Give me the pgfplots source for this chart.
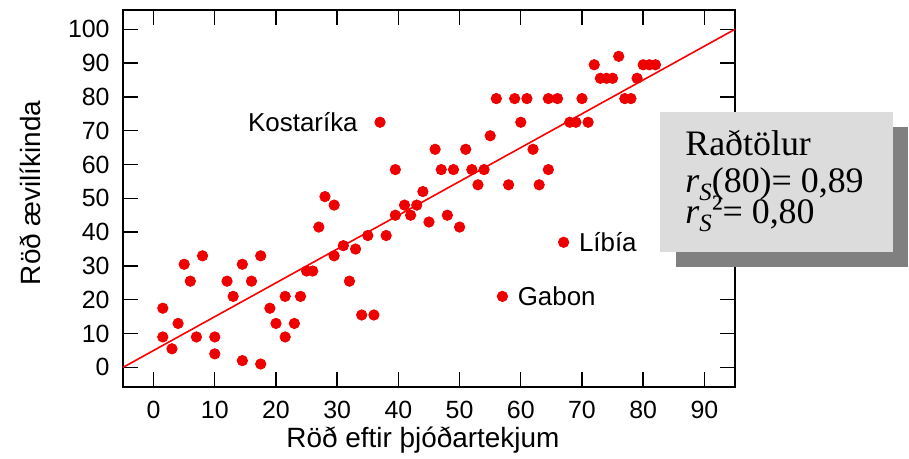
\documentclass[border=0pt]{standalone}
\usepackage{fontspec}
\setmainfont{Liberation Sans}
\newfontfamily\boxfont{Liberation Serif}
\usepackage{pgfplots}
\pgfplotsset{compat=1.18}
\definecolor{dotred}{HTML}{EE0000}
\definecolor{boxgray}{HTML}{DCDCDC}
\definecolor{shadowgray}{HTML}{808080}

\begin{document}
\begin{tikzpicture}
\useasboundingbox (-61.5bp,-36bp) rectangle (393bp,193.5bp);
\begin{axis}[
  scale only axis, width=306bp, height=188.5bp,
  xmin=-5, xmax=95, ymin=-5.8, ymax=105.7,
  xtick={0,10,...,90}, ytick={0,10,...,100},
  tick align=inside, major tick length=7.5bp,
  tick style={black, line width=0.7bp},
  axis line style={black, line width=1bp},
  /pgf/number format/assume math mode=true,
  ticklabel style={font=\fontsize{12.5}{15}\selectfont, inner sep=0pt},
  xticklabel style={anchor=center, yshift=-11.5bp},
  yticklabel style={anchor=east, xshift=-6.5bp},
  xlabel={Röð eftir þjóðartekjum},
  ylabel={Röð ævilíkinda},
  label style={font=\fontsize{14}{17}\selectfont},
  xlabel style={at={(axis description cs:0.49,-0.14)}, anchor=center},
  ylabel style={at={(axis description cs:-0.152,0.515)}, anchor=center},
  clip=false,
]
\addplot[red, line width=0.8bp] coordinates {(-5,0)(95,100)};
\addplot[only marks, mark=*, mark size=2.6bp, color=dotred, mark options={draw=none, fill=dotred}] coordinates {
(1.5,17.5)(1.5,9)(3,5.5)(4,13)(5,30.5)(6,25.5)(7,9)(8,33)(10,9)(10,4)
(12,25.5)(13,21)(14.5,30.5)(14.5,2)(16,25.5)(17.5,33)(17.5,1)(19,17.5)(20,13)(21.5,21)
(21.5,9)(23,13)(24,21)(25,28.5)(26,28.5)(27,41.5)(28,50.5)(29.5,48)(29.5,33)(31,36)
(32,25.5)(33,35)(34,15.5)(35,39)(36,15.5)(37,72.5)(38,39)(39.5,58.5)(39.5,45)(41,48)
(42,45)(43,48)(44,52)(45,43)(46,64.5)(47,58.5)(48,45)(49,58.5)(50,41.5)(51,64.5)
(52,58.5)(53,54)(54,58.5)(55,68.5)(56,79.5)(57,21)(58,54)(59,79.5)(60,72.5)(61,79.5)
(62,64.5)(63,54)(64.5,58.5)(64.5,79.5)(66,79.5)(67,37)(68,72.5)(69,72.5)(70,79.5)(71,72.5)
(72,89.5)(73,85.5)(74,85.5)(75,85.5)(76,92)(77,79.5)(78,79.5)(79,85.5)(80,89.5)(81,89.5)
(82,89.5)
};
\node[anchor=east, inner sep=0pt, xshift=-11bp, font=\fontsize{13}{15}\selectfont] at (axis cs:37,72.5) {Kostaríka};
\node[anchor=west, inner sep=0pt, xshift=7.5bp, font=\fontsize{13}{15}\selectfont] at (axis cs:67,37) {Líbía};
\node[anchor=west, inner sep=0pt, xshift=7.5bp, font=\fontsize{13}{15}\selectfont] at (axis cs:57,21) {Gabon};
\fill[shadowgray] (rel axis cs:0.9036,0.3183) rectangle (rel axis cs:1.2827,0.6897);
\fill[boxgray] (rel axis cs:0.8775,0.3581) rectangle (rel axis cs:1.2582,0.7294);
\node[anchor=north west, inner sep=0pt, align=left, font=\boxfont\fontsize{18}{20}\selectfont]
  at (rel axis cs:0.9183,0.6817)
  {Raðtölur\\[-1.5bp]
   \textit{r}\raisebox{-0.22em}{\fontsize{12.5}{14}\selectfont\textit{S}}(80)= 0,89\\[-4.5bp]
   \textit{r}\raisebox{-0.22em}{\fontsize{12.5}{14}\selectfont\textit{S}}\raisebox{0.1em}{²}= 0,80};
\end{axis}
\end{tikzpicture}
\end{document}
